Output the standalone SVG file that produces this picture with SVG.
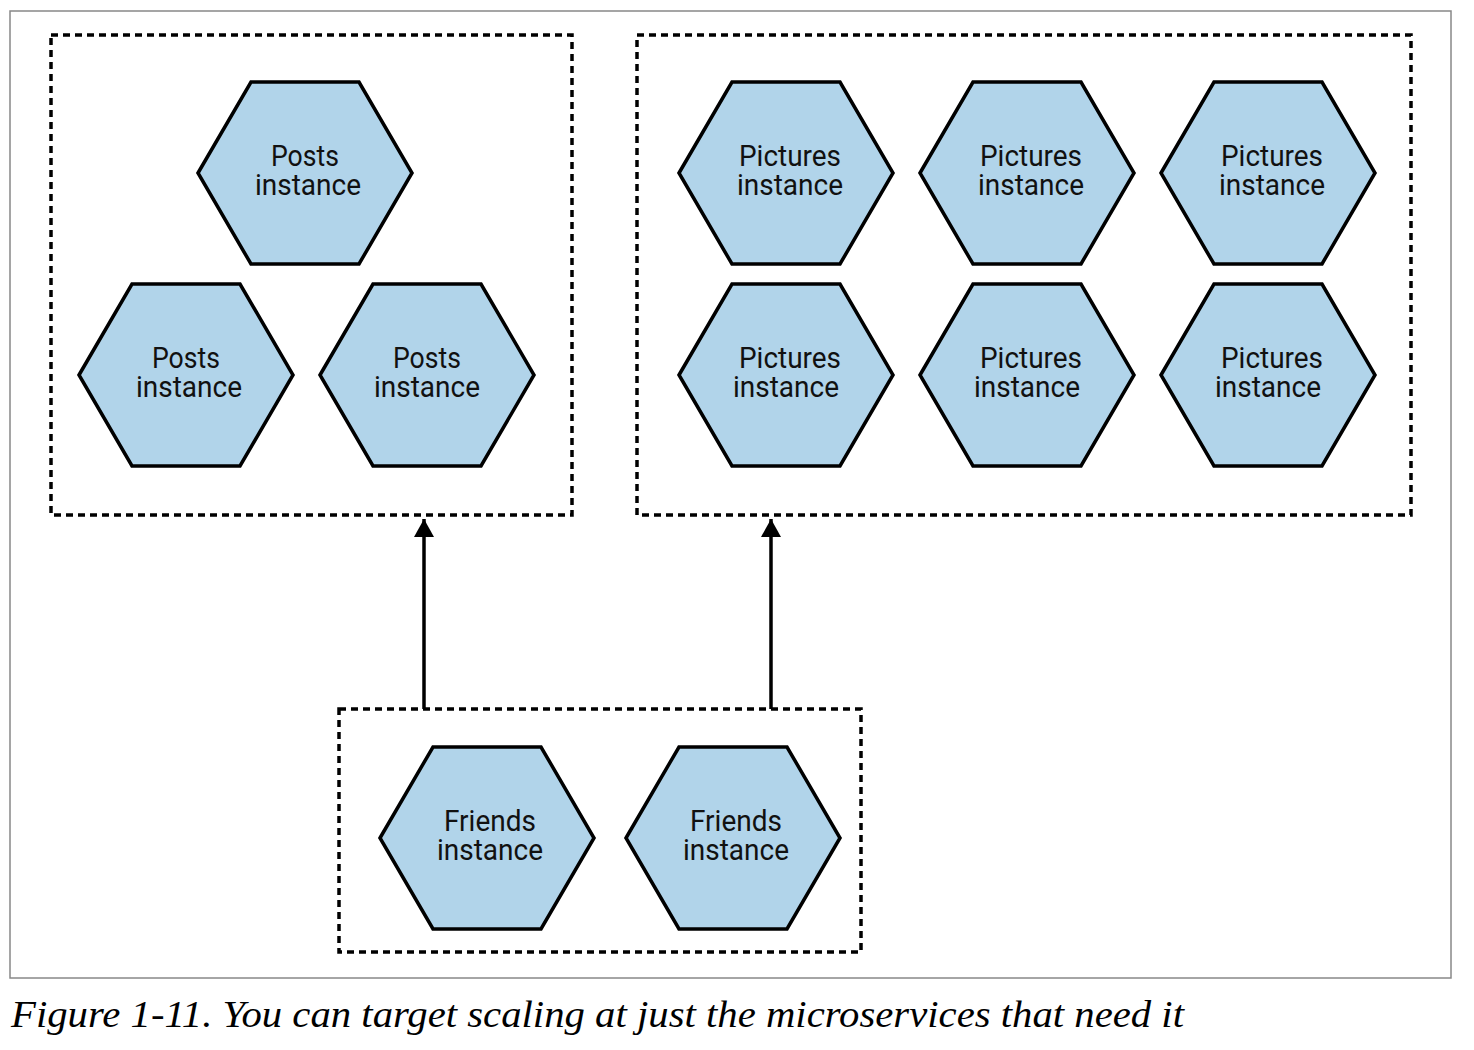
<svg xmlns="http://www.w3.org/2000/svg" width="1474" height="1050" viewBox="0 0 1474 1050">
<defs>
<style>
.hex{fill:#b1d4ea;stroke:#000;stroke-width:3.5;stroke-linejoin:miter}
.box{fill:none;stroke:#000;stroke-width:3.5;stroke-dasharray:7 5}
.lbl{font-family:Roboto,"Liberation Sans",sans-serif;font-size:29px;fill:#111;text-anchor:middle}
.conn{stroke:#000;stroke-width:3.5;fill:none}
</style>
<polygon id="hx" class="hex" points="-107,0 -54,-91 54,-91 107,0 54,91 -54,91"/>
<marker id="arr" markerWidth="20" markerHeight="22" refX="18" refY="10" orient="auto" markerUnits="userSpaceOnUse" viewBox="0 0 20 20">
<path d="M0,0 L18,10 L0,20 Z" fill="#000"/>
</marker>
</defs>
<rect x="0" y="0" width="1474" height="1050" fill="#fff"/>
<rect x="10" y="11" width="1441" height="967" fill="none" stroke="#888" stroke-width="1.5"/>
<g id="groups">
<rect id="posts-group" class="box" x="51" y="35" width="521" height="480"/>
<rect id="pictures-group" class="box" x="637" y="35" width="774" height="480"/>
<rect id="friends-group" class="box" x="339" y="709" width="522" height="243"/>
</g>
<g id="connectors">
<line class="conn" x1="424" y1="709" x2="424" y2="519" marker-end="url(#arr)"/>
<line class="conn" x1="771" y1="709" x2="771" y2="519" marker-end="url(#arr)"/>
</g>
<g id="posts1" transform="translate(305,173)"><use href="#hx"/><text class="lbl" y="-7" textLength="68" lengthAdjust="spacingAndGlyphs">Posts</text><text class="lbl" x="3" y="22" textLength="106" lengthAdjust="spacingAndGlyphs">instance</text></g>
<g id="posts2" transform="translate(186,375)"><use href="#hx"/><text class="lbl" y="-7" textLength="68" lengthAdjust="spacingAndGlyphs">Posts</text><text class="lbl" x="3" y="22" textLength="106" lengthAdjust="spacingAndGlyphs">instance</text></g>
<g id="posts3" transform="translate(427,375)"><use href="#hx"/><text class="lbl" y="-7" textLength="68" lengthAdjust="spacingAndGlyphs">Posts</text><text class="lbl" x="0" y="22" textLength="106" lengthAdjust="spacingAndGlyphs">instance</text></g>
<g id="pictures1" transform="translate(786,173)"><use href="#hx"/><text class="lbl" x="4" y="-7" textLength="102" lengthAdjust="spacingAndGlyphs">Pictures</text><text class="lbl" x="4" y="22" textLength="106" lengthAdjust="spacingAndGlyphs">instance</text></g>
<g id="pictures2" transform="translate(1027,173)"><use href="#hx"/><text class="lbl" x="4" y="-7" textLength="102" lengthAdjust="spacingAndGlyphs">Pictures</text><text class="lbl" x="4" y="22" textLength="106" lengthAdjust="spacingAndGlyphs">instance</text></g>
<g id="pictures3" transform="translate(1268,173)"><use href="#hx"/><text class="lbl" x="4" y="-7" textLength="102" lengthAdjust="spacingAndGlyphs">Pictures</text><text class="lbl" x="4" y="22" textLength="106" lengthAdjust="spacingAndGlyphs">instance</text></g>
<g id="pictures4" transform="translate(786,375)"><use href="#hx"/><text class="lbl" x="4" y="-7" textLength="102" lengthAdjust="spacingAndGlyphs">Pictures</text><text class="lbl" x="0" y="22" textLength="106" lengthAdjust="spacingAndGlyphs">instance</text></g>
<g id="pictures5" transform="translate(1027,375)"><use href="#hx"/><text class="lbl" x="4" y="-7" textLength="102" lengthAdjust="spacingAndGlyphs">Pictures</text><text class="lbl" x="0" y="22" textLength="106" lengthAdjust="spacingAndGlyphs">instance</text></g>
<g id="pictures6" transform="translate(1268,375)"><use href="#hx"/><text class="lbl" x="4" y="-7" textLength="102" lengthAdjust="spacingAndGlyphs">Pictures</text><text class="lbl" x="0" y="22" textLength="106" lengthAdjust="spacingAndGlyphs">instance</text></g>
<g id="friends1" transform="translate(487,838)"><use href="#hx"/><text class="lbl" x="3" y="-7" textLength="92" lengthAdjust="spacingAndGlyphs">Friends</text><text class="lbl" x="3" y="22" textLength="106" lengthAdjust="spacingAndGlyphs">instance</text></g>
<g id="friends2" transform="translate(733,838)"><use href="#hx"/><text class="lbl" x="3" y="-7" textLength="92" lengthAdjust="spacingAndGlyphs">Friends</text><text class="lbl" x="3" y="22" textLength="106" lengthAdjust="spacingAndGlyphs">instance</text></g>
<text id="caption" x="11" y="1027" font-family="'Liberation Serif',serif" font-style="italic" font-size="37" fill="#000" textLength="1173" lengthAdjust="spacingAndGlyphs">Figure 1-11. You can target scaling at just the microservices that need it</text>
</svg>
